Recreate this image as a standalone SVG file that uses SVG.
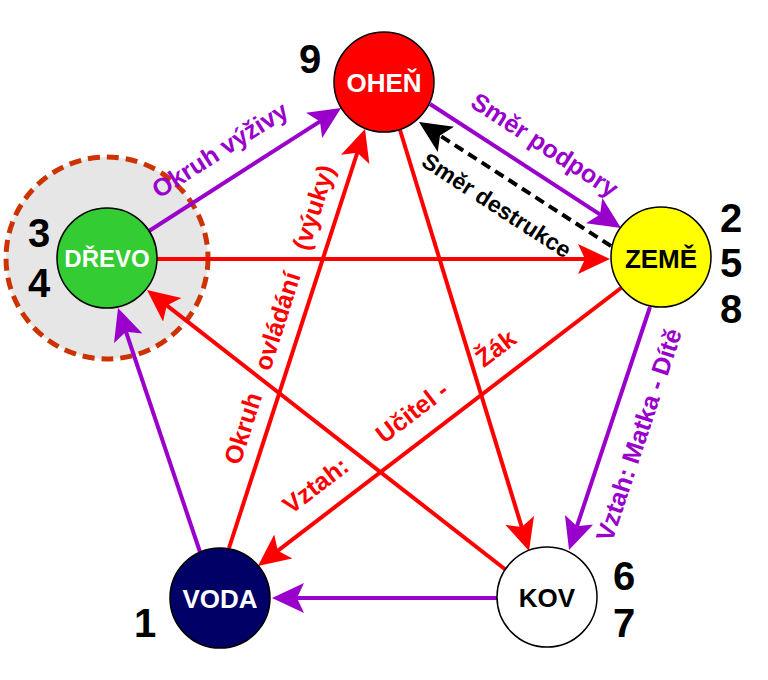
<svg xmlns="http://www.w3.org/2000/svg" width="768" height="680" viewBox="0 0 768 680">
<defs>
<style>
.node{stroke:#000;stroke-width:1.5}
.nlab{font-family:"Liberation Sans",Arial,sans-serif;font-weight:bold;font-size:26px;text-anchor:middle}
.num{font-family:"Liberation Sans",Arial,sans-serif;font-weight:bold;font-size:40px;text-anchor:middle;fill:#000}
.lab{font-family:"Liberation Sans",Arial,sans-serif;font-weight:bold;font-size:25px}
.p{stroke:#9900cc;stroke-width:4;fill:none}
.r{stroke:#ff0000;stroke-width:4;fill:none}
.k{stroke:#000;stroke-width:4;fill:none;stroke-dasharray:10 6}
</style>
<marker id="ap" markerUnits="userSpaceOnUse" markerWidth="40" markerHeight="40" refX="22" refY="15" orient="auto"><path d="M0,0 L32,15 L0,30 L7,15 Z" fill="#9900cc"/></marker>
<marker id="ar" markerUnits="userSpaceOnUse" markerWidth="40" markerHeight="40" refX="22" refY="15" orient="auto"><path d="M0,0 L32,15 L0,30 L7,15 Z" fill="#ff0000"/></marker>
<marker id="ak" markerUnits="userSpaceOnUse" markerWidth="40" markerHeight="40" refX="22" refY="15" orient="auto"><path d="M0,0 L32,15 L0,30 L7,15 Z" fill="#000"/></marker>
</defs>
<rect width="768" height="680" fill="#fff"/>
<g id="halo"><circle cx="107" cy="258" r="101" fill="#e6e6e6" stroke="#cc3300" stroke-width="5" stroke-dasharray="12 7"/></g>
<g id="connectors">
<line class="p" x1="149" y1="231" x2="332.6" y2="113.4" marker-end="url(#ap)"/>
<line class="p" x1="430" y1="104" x2="612.6" y2="222.6" marker-end="url(#ap)"/>
<line class="p" x1="650" y1="307" x2="572.2" y2="540.5" marker-end="url(#ap)"/>
<line class="p" x1="497" y1="598" x2="282" y2="598" marker-end="url(#ap)"/>
<line class="p" x1="200" y1="552" x2="121.2" y2="317.5" marker-end="url(#ap)"/>
<line class="r" x1="157" y1="259" x2="600" y2="259" marker-end="url(#ar)"/>
<line class="r" x1="621" y1="288" x2="265.9" y2="559.9" marker-end="url(#ar)"/>
<line class="r" x1="229" y1="548" x2="361.9" y2="138.5" marker-end="url(#ar)"/>
<line class="r" x1="400" y1="130" x2="526.1" y2="541.4" marker-end="url(#ar)"/>
<line class="r" x1="506" y1="570" x2="154.9" y2="296.2" marker-end="url(#ar)"/>
<line class="k" x1="611" y1="246" x2="427.4" y2="127.4" marker-end="url(#ak)"/>
</g>
<g id="ohen"><circle class="node" cx="384" cy="82" r="50" fill="#ff0000"/><text class="nlab" x="384" y="92" fill="#fff">OHEŇ</text></g>
<g id="zeme"><circle class="node" cx="661" cy="257" r="50" fill="#ffff00"/><text class="nlab" x="661" y="268" fill="#000">ZEMĚ</text></g>
<g id="drevo"><circle class="node" cx="107" cy="258" r="50" fill="#33cc33"/><text class="nlab" x="107" y="267" fill="#fff" style="font-size:24px">DŘEVO</text></g>
<g id="voda"><circle class="node" cx="220" cy="598" r="50" fill="#000066"/><text class="nlab" x="220" y="608" fill="#fff">VODA</text></g>
<g id="kov"><circle class="node" cx="547" cy="597" r="50" fill="#fff"/><text class="nlab" x="547" y="607" fill="#000">KOV</text></g>
<g id="numbers">
<text class="num" x="310" y="73">9</text>
<text class="num" x="731" y="232">2</text>
<text class="num" x="731" y="277">5</text>
<text class="num" x="731" y="323">8</text>
<text class="num" x="39" y="247">3</text>
<text class="num" x="39" y="297">4</text>
<text class="num" x="624" y="590">6</text>
<text class="num" x="624" y="637">7</text>
<text class="num" x="145" y="637">1</text>
</g>
<g id="labels">
<text class="lab" fill="#9900cc" transform="translate(159,199) rotate(-32.6)">Okruh výživy</text>
<text class="lab" fill="#9900cc" transform="translate(469,106) rotate(33)">Směr podpory</text>
<text class="lab" fill="#000" style="font-size:23px" transform="translate(420,165) rotate(33)">Směr destrukce</text>
<text class="lab" fill="#9900cc" transform="translate(612,543) rotate(-71.6)">Vztah: Matka - Dítě</text>
<text class="lab" fill="#ff0000" transform="translate(240,466) rotate(-72.3)">Okruh <tspan dx="18">ovládání</tspan> <tspan dx="18">(výuky)</tspan></text>
<text class="lab" fill="#ff0000" transform="translate(291,515) rotate(-37.3)">Vztah: <tspan dx="35">Učitel -</tspan> <tspan dx="35">Žák</tspan></text>
</g>
</svg>
